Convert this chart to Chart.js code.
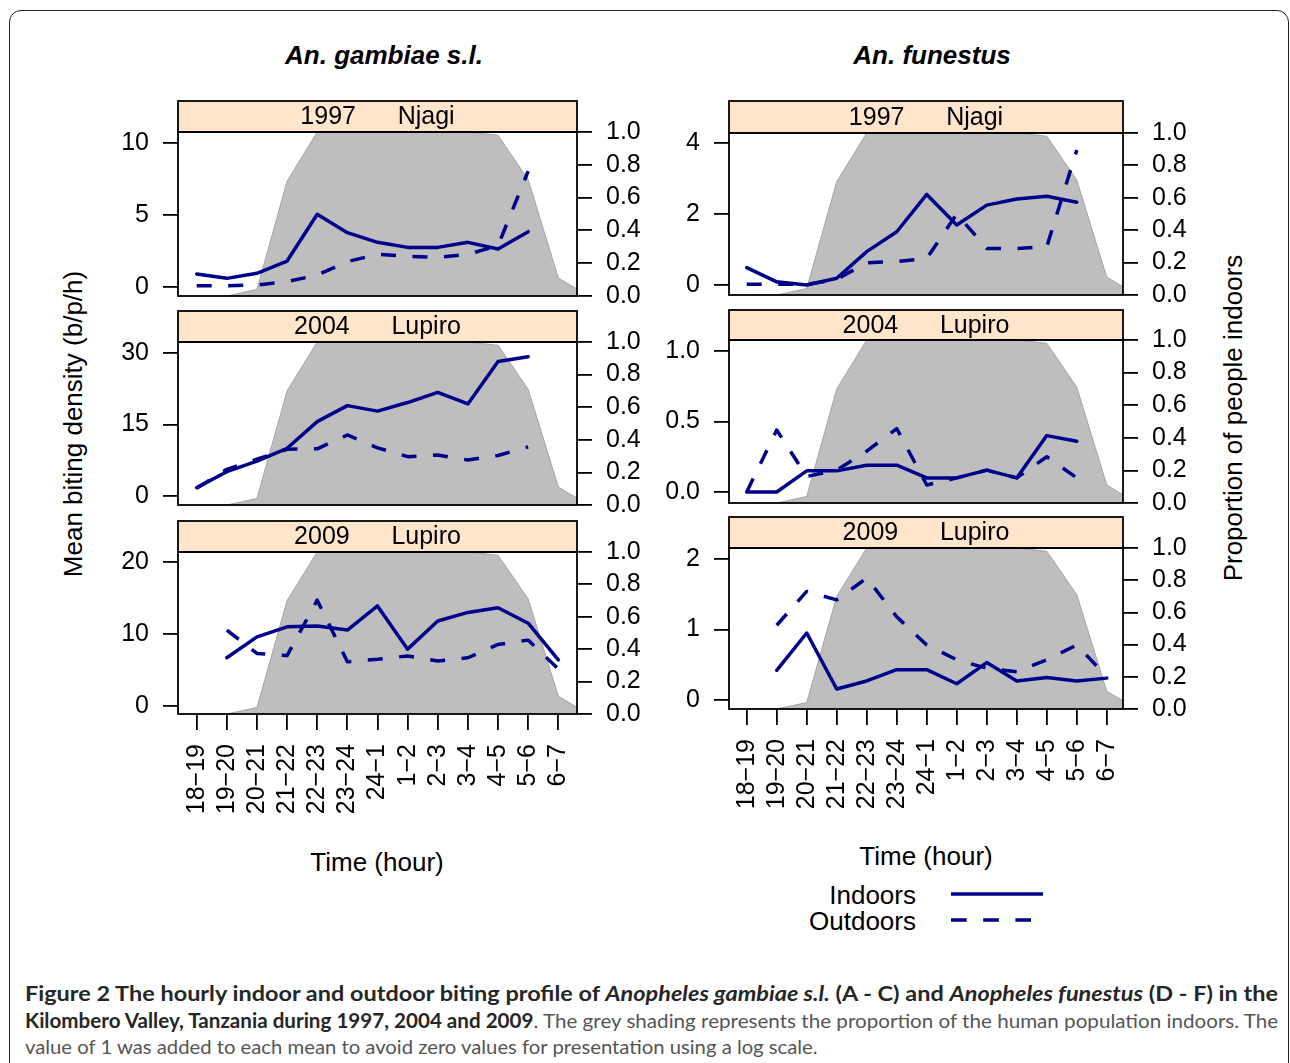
<!DOCTYPE html>
<html>
<head>
<meta charset="utf-8">
<script src="https://cdn.jsdelivr.net/npm/chart.js@4.4.1/dist/chart.umd.min.js"></script>
<style>
  body { margin: 0; width: 1290px; height: 1063px; overflow: hidden; position: relative; background: #fff;
         font-family: "Liberation Sans", Arial, sans-serif; }
  .box { position: absolute; left: 9px; top: 10px; width: 1280px; height: 1100px; box-sizing: border-box;
         border: 1.5px solid #222; border-radius: 12px; }
  .t { position: absolute; white-space: nowrap; line-height: 1; color: #000; font-size: 26px; }
  .c { transform: translate(-50%, -50%); }
  .rot { transform: translate(-50%, -50%) rotate(-90deg); }
  .title { font-weight: bold; font-style: italic; }
  canvas { position: absolute; }
  #caption { position: absolute; left: 25px; top: 980px;
             font-family: Lato, "Open Sans", sans-serif; font-size: 20px; line-height: 26.5px; color: #555; }
  #caption b { color: #262626; }
  #caption .line { height: 26.5px; }
  #caption .line span { display: inline-block; white-space: nowrap; transform-origin: 0 0; }
</style>
</head>
<body>
<div class="box"></div>

<div class="t c title" style="left:384px; top:55px;">An. gambiae s.l.</div>
<div class="t c title" style="left:932px; top:55px;">An. funestus</div>
<div class="t rot" style="left:73px; top:424px;">Mean biting density (b/p/h)</div>
<div class="t rot" style="left:1233px; top:418px;">Proportion of people indoors</div>
<div class="t c" style="left:377px; top:862px;">Time (hour)</div>
<div class="t c" style="left:926px; top:856px;">Time (hour)</div>

<div class="t" style="right:374px; top:895px; transform: translateY(-50%);">Indoors</div>
<div class="t" style="right:374px; top:921px; transform: translateY(-50%);">Outdoors</div>
<svg style="position:absolute; left:950px; top:880px;" width="100" height="50">
  <line x1="1" y1="14" x2="93" y2="14" stroke="#00008b" stroke-width="3.5"/>
  <line x1="1" y1="40" x2="81" y2="40" stroke="#00008b" stroke-width="3.5" stroke-dasharray="15.7 16.5"/>
</svg>

<div id="caption">
  <div class="line" data-w="1253"><span><b>Figure 2 The hourly indoor and outdoor biting profile of <i>Anopheles gambiae s.l.</i> (A - C) and <i>Anopheles funestus</i> (D - F) in the</b></span></div>
  <div class="line" data-w="1253"><span><b>Kilombero Valley, Tanzania during 1997, 2004 and 2009</b>. The grey shading represents the proportion of the human population indoors. The</span></div>
  <div class="line" data-w="793"><span>value of 1 was added to each mean to avoid zero values for presentation using a log scale.</span></div>
</div>

<script>
const hours = ['18-19', '19-20', '20-21', '21-22', '22-23', '23-24', '24-1', '1-2', '2-3', '3-4', '4-5', '5-6', '6-7'];

// share of people indoors per hour (grey shading); last value is 7-8, just past the axis
const propIndoors = [0, 0, 0.04, 0.70, 1.0, 1.0, 1.0, 1.0, 1.0, 1.0, 0.98, 0.71, 0.11, 0];
const propTicks = [0, 0.2, 0.4, 0.6, 0.8, 1.0];

// An. gambiae s.l.
const gambiae1997In  = [0.90, 0.60, 0.95, 1.80, 5.05, 3.77, 3.10, 2.75, 2.75, 3.10, 2.64, 3.84, null];
const gambiae1997Out = [0.09, 0.09, 0.14, 0.37, 0.83, 1.76, 2.27, 2.13, 2.06, 2.27, 2.87, 8.05, null];
const gambiae2004In  = [1.75, 5.1, 7.3, 10.0, 15.6, 18.95, 17.8, 19.6, 21.75, 19.3, 28.2, 29.2, null];
const gambiae2004Out = [1.6, 5.6, 7.7, 9.8, 9.9, 12.8, 10.1, 8.25, 8.6, 7.55, 8.5, 10.3, null];
const gambiae2009In  = [null, 6.7, 9.6, 11.0, 11.1, 10.55, 13.9, 7.9, 11.8, 13.0, 13.65, 11.5, 6.4];
const gambiae2009Out = [null, 10.55, 7.3, 7.0, 14.7, 6.15, 6.5, 6.95, 6.25, 6.7, 8.55, 9.15, 5.15];

// An. funestus
const funestus1997In  = [0.49, 0.09, 0.0, 0.19, 0.94, 1.5, 2.55, 1.69, 2.25, 2.42, 2.5, 2.33, null];
const funestus1997Out = [0.02, 0.02, 0.02, 0.16, 0.63, 0.66, 0.75, 2.0, 1.03, 1.03, 1.08, 3.8, null];
const funestus2004In  = [0.0, 0.0, 0.15, 0.15, 0.19, 0.19, 0.10, 0.10, 0.155, 0.10, 0.40, 0.36, null];
const funestus2004Out = [0.0, 0.44, 0.11, 0.155, 0.29, 0.45, 0.05, 0.10, 0.155, 0.10, 0.25, 0.10, null];
const funestus2009In  = [null, 0.42, 0.95, 0.156, 0.27, 0.43, 0.43, 0.23, 0.53, 0.27, 0.32, 0.27, 0.31];
const funestus2009Out = [null, 1.06, 1.54, 1.42, 1.73, 1.18, 0.78, 0.57, 0.45, 0.40, 0.57, 0.78, 0.33];

const ticksGambiae1997 = [0, 5, 10];
const ticksGambiae2004 = [0, 15, 30];
const ticksGambiae2009 = [0, 10, 20];
const ticksFunestus1997 = [0, 2, 4];
const ticksFunestus2004 = [0, 0.5, 1.0];
const ticksFunestus2009 = [0, 1, 2];

const NAVY = '#00008b';
const FONT = '"Liberation Sans", Arial, sans-serif';
const AXIS_W = 90;
const X_AXIS_H = 110;
const BOTTOM_PAD = 32; // y tick labels hang below the plot by half a line + padding

const leftCol = { left: 178, right: 577, xMin: -0.62, xMax: 12.62 };
const rightCol = { left: 729, right: 1123, xMin: -0.59, xMax: 12.54 };

const panels = [
  { col: leftCol, strip: '1997      Njagi', indoor: gambiae1997In, outdoor: gambiae1997Out, yTicks: ticksGambiae1997, digits: 0,
    stripTop: 101, top: 132, bottom: 296, yMin: -0.625, yMax: 10.76, xAxis: false },
  { col: leftCol, strip: '2004      Lupiro', indoor: gambiae2004In, outdoor: gambiae2004Out, yTicks: ticksGambiae2004, digits: 0,
    stripTop: 311, top: 342, bottom: 505, yMin: -1.89, yMax: 32.3, xAxis: false },
  { col: leftCol, strip: '2009      Lupiro', indoor: gambiae2009In, outdoor: gambiae2009Out, yTicks: ticksGambiae2009, digits: 0,
    stripTop: 521, top: 552, bottom: 714, yMin: -1.11, yMax: 21.39, xAxis: true },
  { col: rightCol, strip: '1997      Njagi', indoor: funestus1997In, outdoor: funestus1997Out, yTicks: ticksFunestus1997, digits: 0,
    stripTop: 101, top: 133, bottom: 295, yMin: -0.28, yMax: 4.28, xAxis: false },
  { col: rightCol, strip: '2004      Lupiro', indoor: funestus2004In, outdoor: funestus2004Out, yTicks: ticksFunestus2004, digits: 1,
    stripTop: 310, top: 340, bottom: 503, yMin: -0.078, yMax: 1.078, xAxis: false },
  { col: rightCol, strip: '2009      Lupiro', indoor: funestus2009In, outdoor: funestus2009Out, yTicks: ticksFunestus2009, digits: 0,
    stripTop: 517, top: 548, bottom: 709, yMin: -0.128, yMax: 2.156, xAxis: true },
];

// strip on top of the panel plus the black frame round the plot area
const panelFrame = {
  id: 'panelFrame',
  afterDraw(chart, args, opts) {
    const { ctx, chartArea: a } = chart;
    const h = opts.stripHeight;
    ctx.save();
    ctx.lineWidth = 1.8;
    ctx.strokeStyle = '#000';
    ctx.fillStyle = '#ffe5cc';
    ctx.fillRect(a.left, a.top - h, a.width, h);
    ctx.strokeRect(a.left, a.top - h, a.width, h);
    ctx.strokeRect(a.left, a.top, a.width, a.height);
    ctx.fillStyle = '#000';
    ctx.font = '25px ' + FONT;
    ctx.textAlign = 'center';
    ctx.textBaseline = 'middle';
    ctx.fillText(opts.label, (a.left + a.right) / 2, a.top - h / 2 + 1);
    ctx.restore();
  }
};

const toPoints = (arr) => arr.map((y, i) => ({ x: i, y: y }));

const tickGrid = (len) => ({ drawOnChartArea: false, drawTicks: true, tickLength: len, color: '#000', lineWidth: 1.8 });

const drawPanel = (p) => {
  const col = p.col;
  const canvasTop = p.stripTop - 2;
  const canvas = document.createElement('canvas');
  canvas.width = AXIS_W + (col.right - col.left) + AXIS_W;
  canvas.height = p.bottom - canvasTop + (p.xAxis ? X_AXIS_H : BOTTOM_PAD);
  canvas.style.left = (col.left - AXIS_W) + 'px';
  canvas.style.top = canvasTop + 'px';
  document.body.appendChild(canvas);

  new Chart(canvas, {
    type: 'line',
    data: {
      datasets: [
        {
          label: 'Indoors', data: toPoints(p.indoor), yAxisID: 'y', order: 1,
          borderColor: NAVY, borderWidth: 3.5, pointRadius: 0, fill: false,
          borderCapStyle: 'round', borderJoinStyle: 'round'
        },
        {
          label: 'Outdoors', data: toPoints(p.outdoor), yAxisID: 'y', order: 2,
          borderColor: NAVY, borderWidth: 3.5, borderDash: [15, 16.5], pointRadius: 0, fill: false,
          borderJoinStyle: 'round'
        },
        {
          label: 'Proportion indoors', data: toPoints(propIndoors), yAxisID: 'y2', order: 3,
          borderColor: '#a4a4a4', borderWidth: 1, backgroundColor: '#bebebe', fill: 'origin', pointRadius: 0
        }
      ]
    },
    options: {
      responsive: false,
      animation: false,
      layout: { padding: { top: p.top - canvasTop, bottom: p.xAxis ? 0 : BOTTOM_PAD, left: 0, right: 0 } },
      scales: {
        x: {
          type: 'linear', min: col.xMin, max: col.xMax, display: p.xAxis,
          afterBuildTicks: (s) => { s.ticks = hours.map((h, i) => ({ value: i })); },
          afterFit: (s) => { if (p.xAxis) s.height = X_AXIS_H; },
          grid: tickGrid(16),
          border: { display: false },
          ticks: {
            autoSkip: false, minRotation: 90, maxRotation: 90, padding: 14, color: '#000',
            font: { size: 25, family: FONT },
            callback: (v) => hours[v] ? hours[v].replace('-', '\u2212') : ''
          }
        },
        y: {
          position: 'left', min: p.yMin, max: p.yMax,
          afterBuildTicks: (s) => { s.ticks = p.yTicks.map((v) => ({ value: v })); },
          afterFit: (s) => { s.width = AXIS_W; },
          grid: tickGrid(15),
          border: { display: false },
          ticks: { autoSkip: false, padding: 14, color: '#000', font: { size: 25, family: FONT }, callback: (v) => v.toFixed(p.digits) }
        },
        y2: {
          position: 'right', min: 0, max: 1,
          afterBuildTicks: (s) => { s.ticks = propTicks.map((v) => ({ value: v })); },
          afterFit: (s) => { s.width = AXIS_W; },
          grid: tickGrid(15),
          border: { display: false },
          ticks: { autoSkip: false, padding: 14, color: '#000', font: { size: 25, family: FONT }, callback: (v) => v.toFixed(1) }
        }
      },
      plugins: {
        legend: { display: false },
        tooltip: { enabled: false },
        panelFrame: { label: p.strip, stripHeight: p.top - p.stripTop }
      }
    },
    plugins: [panelFrame]
  });
};

panels.forEach(drawPanel);

// the caption face is narrower than anything installed, so squeeze each line to its original length
const fitCaption = () => {
  document.querySelectorAll('#caption .line').forEach((line) => {
    const span = line.querySelector('span');
    const s = Number(line.dataset.w) / span.offsetWidth;
    span.style.transform = 'scaleX(' + s + ')';
  });
};
if (document.fonts && document.fonts.ready) {
  document.fonts.ready.then(fitCaption);
} else {
  fitCaption();
}
</script>
</body>
</html>
